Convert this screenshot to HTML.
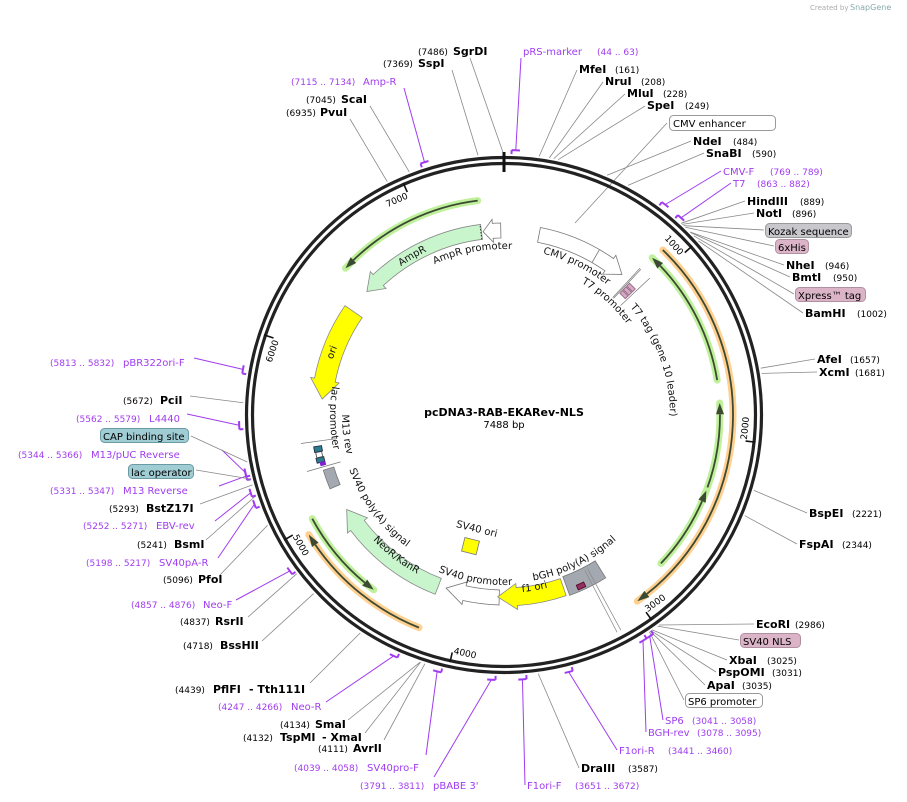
<!DOCTYPE html>
<html><head><meta charset="utf-8"><style>
html,body{margin:0;padding:0;background:#fff;}
svg{display:block;font-family:"DejaVu Sans","Liberation Sans",sans-serif;}
.e{font-weight:bold;font-size:11px;fill:#000;}
.n{font-size:9px;fill:#000;}
.p{font-size:10px;fill:#a03cf0;}
.pn{font-size:9px;fill:#a03cf0;}
.b{font-size:10px;fill:#000;}
.f{font-size:10px;fill:#111;}
.t{font-size:9px;fill:#000;}
</style></head><body>
<svg id="s" width="907" height="802" viewBox="0 0 907 802" xmlns="http://www.w3.org/2000/svg">
<g id="lines"></g>
<g id="ring"></g>
<g id="feat"></g>
<defs id="defs"></defs>
<text x="810" y="10" style="font-size:7px;fill:#aaa">Created by</text>
<text x="850" y="10" style="font-size:8px;fill:#8aa">SnapGene</text>

<text x="418" y="55" class="n">(7486)</text><text x="453" y="55" class="e">SgrDI</text>
<text x="383" y="67" class="n">(7369)</text><text x="418" y="67" class="e">SspI</text>
<text x="291" y="85" class="pn">(7115 .. 7134)</text><text x="363" y="85" class="p">Amp-R</text>
<text x="306" y="103" class="n">(7045)</text><text x="341" y="103" class="e">ScaI</text>
<text x="286" y="116" class="n">(6935)</text><text x="320" y="116" class="e">PvuI</text>
<text x="523" y="55" class="p">pRS-marker</text><text x="597" y="55" class="pn">(44 .. 63)</text>
<text x="579" y="73" class="e">MfeI</text><text x="615" y="73" class="n">(161)</text>
<text x="605" y="85" class="e">NruI</text><text x="641" y="85" class="n">(208)</text>
<text x="627" y="97" class="e">MluI</text><text x="663" y="97" class="n">(228)</text>
<text x="647" y="109" class="e">SpeI</text><text x="685" y="109" class="n">(249)</text>
<rect x="669.5" y="115.5" width="106" height="15" rx="4" fill="#fff" stroke="#999"/><text x="673" y="127" class="b">CMV enhancer</text>
<text x="693" y="145" class="e">NdeI</text><text x="733" y="145" class="n">(484)</text>
<text x="706" y="157" class="e">SnaBI</text><text x="752" y="157" class="n">(590)</text>
<text x="723" y="175" class="p">CMV-F</text><text x="770" y="175" class="pn">(769 .. 789)</text>
<text x="733" y="187" class="p">T7</text><text x="757" y="187" class="pn">(863 .. 882)</text>
<text x="747" y="205" class="e">HindIII</text><text x="800" y="205" class="n">(889)</text>
<text x="756" y="217" class="e">NotI</text><text x="792" y="217" class="n">(896)</text>
<rect x="765.5" y="223.5" width="86" height="14" rx="4" fill="#c8c8cc" stroke="#999"/><text x="768" y="235" class="b">Kozak sequence</text>
<rect x="775.5" y="239.5" width="33" height="14" rx="4" fill="#dcb4c8" stroke="#b090a0"/><text x="778" y="251" class="b">6xHis</text>
<text x="786" y="269" class="e">NheI</text><text x="825" y="269" class="n">(946)</text>
<text x="792" y="281" class="e">BmtI</text><text x="833" y="281" class="n">(950)</text>
<rect x="795.5" y="287.5" width="70" height="14" rx="4" fill="#dcb4c8" stroke="#b090a0"/><text x="798" y="299" class="b">Xpress™ tag</text>
<text x="805" y="317" class="e">BamHI</text><text x="857" y="317" class="n">(1002)</text>
<text x="817" y="363" class="e">AfeI</text><text x="850" y="363" class="n">(1657)</text>
<text x="819" y="376" class="e">XcmI</text><text x="855" y="376" class="n">(1681)</text>
<text x="809" y="517" class="e">BspEI</text><text x="852" y="517" class="n">(2221)</text>
<text x="799" y="548" class="e">FspAI</text><text x="842" y="548" class="n">(2344)</text>
<text x="756" y="628" class="e">EcoRI</text><text x="795" y="628" class="n">(2986)</text>
<rect x="740.5" y="633.5" width="60" height="14" rx="4" fill="#dcb4c8" stroke="#b090a0"/><text x="743" y="645" class="b">SV40 NLS</text>
<text x="729" y="664" class="e">XbaI</text><text x="767" y="664" class="n">(3025)</text>
<text x="718" y="676" class="e">PspOMI</text><text x="772" y="676" class="n">(3031)</text>
<text x="707" y="689" class="e">ApaI</text><text x="742" y="689" class="n">(3035)</text>
<rect x="685.5" y="693.5" width="77" height="14" rx="4" fill="#fff" stroke="#999"/><text x="688" y="705" class="b">SP6 promoter</text>
<text x="665" y="724" class="p">SP6</text><text x="692" y="724" class="pn">(3041 .. 3058)</text>
<text x="648" y="736" class="p">BGH-rev</text><text x="697" y="736" class="pn">(3078 .. 3095)</text>
<text x="619" y="754" class="p">F1ori-R</text><text x="668" y="754" class="pn">(3441 .. 3460)</text>
<text x="581" y="772" class="e">DraIII</text><text x="628" y="772" class="n">(3587)</text>
<text x="527" y="789" class="p">F1ori-F</text><text x="575" y="789" class="pn">(3651 .. 3672)</text>
<text x="360" y="789" class="pn">(3791 .. 3811)</text><text x="433" y="789" class="p">pBABE 3'</text>
<text x="294" y="771" class="pn">(4039 .. 4058)</text><text x="367" y="771" class="p">SV40pro-F</text>
<text x="318" y="752" class="n">(4111)</text><text x="353" y="752" class="e">AvrII</text>
<text x="243" y="741" class="n">(4132)</text><text x="280" y="741" class="e">TspMI</text><text x="322" y="741" class="e">- XmaI</text>
<text x="280" y="728" class="n">(4134)</text><text x="315" y="728" class="e">SmaI</text>
<text x="218" y="710" class="pn">(4247 .. 4266)</text><text x="291" y="710" class="p">Neo-R</text>
<text x="175" y="693" class="n">(4439)</text><text x="213" y="693" class="e">PflFI</text><text x="249" y="693" class="e">- Tth111I</text>
<text x="183" y="649" class="n">(4718)</text><text x="220" y="649" class="e">BssHII</text>
<text x="180" y="625" class="n">(4837)</text><text x="215" y="625" class="e">RsrII</text>
<text x="131" y="608" class="pn">(4857 .. 4876)</text><text x="203" y="608" class="p">Neo-F</text>
<text x="163" y="583" class="n">(5096)</text><text x="198" y="583" class="e">PfoI</text>
<text x="86" y="566" class="pn">(5198 .. 5217)</text><text x="159" y="566" class="p">SV40pA-R</text>
<text x="137" y="548" class="n">(5241)</text><text x="174" y="548" class="e">BsmI</text>
<text x="83" y="529" class="pn">(5252 .. 5271)</text><text x="156" y="529" class="p">EBV-rev</text>
<text x="109" y="512" class="n">(5293)</text><text x="146" y="512" class="e">BstZ17I</text>
<text x="50" y="494" class="pn">(5331 .. 5347)</text><text x="123" y="494" class="p">M13 Reverse</text>
<rect x="128.5" y="464.5" width="65" height="14" rx="4" fill="#a0ccd4" stroke="#6a9aa4"/><text x="131" y="476" class="b">lac operator</text>
<text x="18" y="458" class="pn">(5344 .. 5366)</text><text x="91" y="458" class="p">M13/pUC Reverse</text>
<rect x="100.5" y="428.5" width="88" height="14" rx="4" fill="#a0ccd4" stroke="#6a9aa4"/><text x="103" y="440" class="b">CAP binding site</text>
<text x="76" y="422" class="pn">(5562 .. 5579)</text><text x="149" y="422" class="p">L4440</text>
<text x="123" y="404" class="n">(5672)</text><text x="160" y="404" class="e">PciI</text>
<text x="50" y="366" class="pn">(5813 .. 5832)</text><text x="123" y="366" class="p">pBR322ori-F</text>

<text x="504" y="416" text-anchor="middle" style="font-weight:bold;font-size:11px">pcDNA3-RAB-EKARev-NLS</text>
<text x="504" y="428" text-anchor="middle" style="font-size:10px">7488 bp</text>

<text class="f"><textPath href="#tp_ampr" startOffset="50%" text-anchor="middle">AmpR</textPath></text>
<text class="f"><textPath href="#tp_amprp" startOffset="50%" text-anchor="middle">AmpR promoter</textPath></text>
<text class="f"><textPath href="#tp_cmv" startOffset="50%" text-anchor="middle">CMV promoter</textPath></text>
<text class="f"><textPath href="#tp_t7p" startOffset="50%" text-anchor="middle">T7 promoter</textPath></text>
<text class="f"><textPath href="#tp_t7t" startOffset="50%" text-anchor="middle">T7 tag (gene 10 leader)</textPath></text>
<text class="f"><textPath href="#tp_ori" startOffset="50%" text-anchor="middle">ori</textPath></text>
<text class="f"><textPath href="#tp_lac" startOffset="50%" text-anchor="middle">lac promoter</textPath></text>
<text class="f"><textPath href="#tp_m13" startOffset="50%" text-anchor="middle">M13 rev</textPath></text>
<text class="f"><textPath href="#tp_sv40pa" startOffset="50%" text-anchor="middle">SV40 poly(A) signal</textPath></text>
<text class="f"><textPath href="#tp_neo" startOffset="50%" text-anchor="middle">NeoR/KanR</textPath></text>
<text class="f"><textPath href="#tp_sv40p" startOffset="50%" text-anchor="middle">SV40 promoter</textPath></text>
<text class="f"><textPath href="#tp_f1" startOffset="50%" text-anchor="middle">f1 ori</textPath></text>
<text class="f"><textPath href="#tp_bgh" startOffset="50%" text-anchor="middle">bGH poly(A) signal</textPath></text>
<text x="476" y="532" class="f" text-anchor="middle" transform="rotate(14 476 532)">SV40 ori</text>
<g id="ticks">
<text class="t" id="k1">1000</text><text class="t" id="k2">2000</text><text class="t" id="k3">3000</text>
<text class="t" id="k4">4000</text><text class="t" id="k5">5000</text><text class="t" id="k6">6000</text><text class="t" id="k7">7000</text>
</g>
</svg>
<script>
const NS="http://www.w3.org/2000/svg",cx=504,cy=415,L=7488;
const S=document.getElementById('s');
function P(r,a){const t=a*Math.PI/180;return [cx+r*Math.sin(t),cy-r*Math.cos(t)];}
function A(bp){return bp/L*360;}
function arc(r,a1,a2,move=true){const [x1,y1]=P(r,a1),[x2,y2]=P(r,a2);const lg=Math.abs(a2-a1)>180?1:0,sw=a2>a1?1:0;
 return (move?`M${x1.toFixed(2)},${y1.toFixed(2)} `:`L${x1.toFixed(2)},${y1.toFixed(2)} `)+`A${r},${r} 0 ${lg} ${sw} ${x2.toFixed(2)},${y2.toFixed(2)}`;}
function el(tag,attrs,parent){const e=document.createElementNS(NS,tag);for(const k in attrs)e.setAttribute(k,attrs[k]);(parent||S).appendChild(e);return e;}
const G=id=>document.getElementById(id);
const lines=[
[7486,470,58,0],[7369,452,70,0],[7125,404,88,1],[7045,370,106,0],[6935,350,119,0],
[53,521,58,1],[161,577,70,0],[208,603,82,0],[228,625,94,0],[249,645,106,0],
[484,691,141,0],[590,704,153,0],[779,721,171,1],[872,731,183,1],[889,745,201,0],[896,754,213,0],
[905,764,230,0],[915,774,246,0],[946,784,265,0],[950,790,277,0],[970,794,294,0],[1002,803,313,0],
[1657,815,359,0],[1681,817,372,0],[2221,807,513,0],[2344,797,544,0],[2986,754,624,0],[2995,739,640,0],
[3025,727,660,0],[3031,716,672,0],[3035,705,685,0],[3040,684,700,0],[3050,663,720,1],[3086,646,732,1],
[3450,617,750,1],[3587,579,768,0],[3661,525,785,1],
[3801,434,777,1],[4048,426,755,1],[4111,384,740,0],[4132,365,733,0],[4134,348,720,0],[4256,326,702,1],
[4439,310,683,0],[4718,262,641,0],[4837,248,617,0],[4866,236,600,1],[5096,220,575,0],[5207,218,558,1],
[5241,206,540,0],[5261,215,521,1],[5293,200,504,0],[5339,219,486,1],[5320,196,470,0],[5355,222,450,1],
[5400,191,436,0],[5570,187,414,1],[5672,190,396,0],[5822,194,358,1]];
for(const [bp,x,y,p] of lines){const a=A(bp);const [x1,y1]=P(p?265:261,a);
 el('line',{x1,y1,x2:x,y2:y,stroke:p?'#a03cf0':'#888','stroke-width':p?1:0.8},G('lines'));
 if(p){const a1=a-0.9,a2=a+0.9;el('path',{d:arc(265,a1,a2)+' '+`M${P(265,a1).join(',')} L${P(261,a1).join(',')}`,fill:'none',stroke:'#a03cf0','stroke-width':2},G('lines'));}}
el('line',{x1:667,y1:123,x2:575,y2:223,stroke:'#888','stroke-width':0.8},G('lines'));
el('circle',{cx,cy,r:257.5,fill:'none',stroke:'#222','stroke-width':3.2},G('ring'));
el('circle',{cx,cy,r:251.5,fill:'none',stroke:'#222','stroke-width':3.2},G('ring'));
{const [x1,y1]=P(263,0),[x2,y2]=P(243,0);el('line',{x1,y1,x2,y2,stroke:'#111','stroke-width':3},G('ring'));}
for(let i=1;i<=7;i++){const a=A(i*1000);const [x1,y1]=P(253,a),[x2,y2]=P(243,a);
 el('line',{x1,y1,x2,y2,stroke:'#111','stroke-width':1.6},G('ring'));
 const t=G('k'+i);const flip=a>90&&a<270;const rr=flip?244:237;const [x,y]=P(rr,a-0.3);
 const rot=flip?a-180:a;t.setAttribute('x',x);t.setAttribute('y',y);t.setAttribute('text-anchor',flip?'start':'end');
 t.setAttribute('transform',`rotate(${rot} ${x} ${y})`);}
const F=G('feat');
function fat(r0,r1,at,ah,head,fill,stroke){const d=ah>at?1:-1;const an=ah-d*head;const rm=(r0+r1)/2,ex=4;
 const [tx,ty]=P(rm,ah),[ox,oy]=P(r1+ex,an),[ix,iy]=P(r0-ex,an);
 let p=arc(r1,at,an)+` L${ox},${oy} L${tx},${ty} L${ix},${iy} `+arc(r0,an,at,false)+' Z';
 el('path',{d:p,fill,stroke:stroke||'#777','stroke-width':0.8},F);}
function box(r0,r1,a1,a2,fill,stroke){el('path',{d:arc(r1,a1,a2)+' '+arc(r0,a2,a1,false)+' Z',fill,stroke:stroke||'#666','stroke-width':0.8},F);}
function thin(r,at,ah,hl){const d=ah>at?1:-1;const an=ah-d*3;
 el('path',{d:arc(r,at,ah),fill:'none',stroke:hl,'stroke-width':7,'stroke-linecap':'round'},F);
 el('path',{d:arc(r,at,an),fill:'none',stroke:'#3c4a34','stroke-width':1.8},F);
 const [tx,ty]=P(r,ah),[ox,oy]=P(r+4,an),[ix,iy]=P(r-4,an);
 el('path',{d:`M${ox},${oy} L${tx},${ty} L${ix},${iy} Z`,fill:'#3c4a34'},F);}
const GR='#bff09a',OR='#ffd090';
thin(216,-7,-47.2,GR);thin(216,80.7,43.3,GR);thin(216,113,86.8,GR);thin(216,133.4,110.5,GR);thin(218,-118.4,-143.3,GR);
thin(229,43.9,144.4,OR);thin(229,-158.2,-121.5,OR);
fat(177,192,-7,-48,5,'#c8f5cc','#888');
fat(177,192,-1,-6.5,3,'#fff','#777');
{const [a,b]=P(177,-7.2),[c,d]=P(192,-7.2);el('line',{x1:a,y1:b,x2:c,y2:d,stroke:'#333','stroke-dasharray':'1.5,1.5'},F);}
fat(176,191,11,40,5,'#fff','#777');
{const [a,b]=P(176,30),[c,d]=P(191,30);el('line',{x1:a,y1:b,x2:c,y2:d,stroke:'#777','stroke-width':0.8},F);}
fat(172,193,-55.5,-85,6,'#ffff00','#888');
fat(175,192,-159,-121,6,'#c8f5cc','#888');
fat(175,190,181.5,198.5,6,'#fff','#777');
fat(173,191,161,182,6,'#ffff00','#888');
box(172,192,148,160,'#a4a8b0','#777');
box(178,189,-107,-113,'#a4a8b0','#777');
for(let k=0;k<3;k++){box(168+k*5,172+k*5,43.6,46.2,'#d4a8c0','#906080');}
for(const a of [42.8,43.2,46.8]){const [x1,y1]=P(160,a),[x2,y2]=P(200,a);el('line',{x1,y1,x2,y2,stroke:'#777','stroke-width':0.7},F);}
box(185,193,-99.5,-101.2,'#2a7d8c','#224');box(185,193,-103,-104.5,'#2a7d8c','#224');
box(186,192,-101.3,-102.9,'#fff','#444');box(185,190,-104.5,-105.5,'#8020d0','#8020d0');
for(const a of [-98,-106]){const [x1,y1]=P(170,a),[x2,y2]=P(205,a);el('line',{x1,y1,x2,y2,stroke:'#777','stroke-width':0.7},F);}
box(185,190,154.5,157,'#903060','#502');
for(const a of [151.5,152.5]){const [x1,y1]=P(175,a),[x2,y2]=P(245,a);el('line',{x1,y1,x2,y2,stroke:'#888','stroke-width':0.7},F);}
el('rect',{x:463,y:539,width:15,height:14,fill:'#ffff00',stroke:'#777','stroke-width':0.8,transform:'rotate(14 470 546)'},F);
const D=G('defs');
function tp(id,r,a1,a2){el('path',{id,d:arc(r,a1,a2),fill:'none'},D);}
tp('tp_ampr',181,-45,-15);tp('tp_amprp',166,-30,8);tp('tp_cmv',166,10,42);tp('tp_t7p',153,28,56);
tp('tp_t7t',166,48,92);tp('tp_ori',180,-82,-58);tp('tp_lac',174,-78,-104);tp('tp_m13',162,-89,-105);
tp('tp_sv40pa',164,-107,-146);tp('tp_neo',181,-125,-160);tp('tp_sv40p',170,205,175);tp('tp_f1',178,180,160);tp('tp_bgh',168,170,138);
</script>
</body></html>
